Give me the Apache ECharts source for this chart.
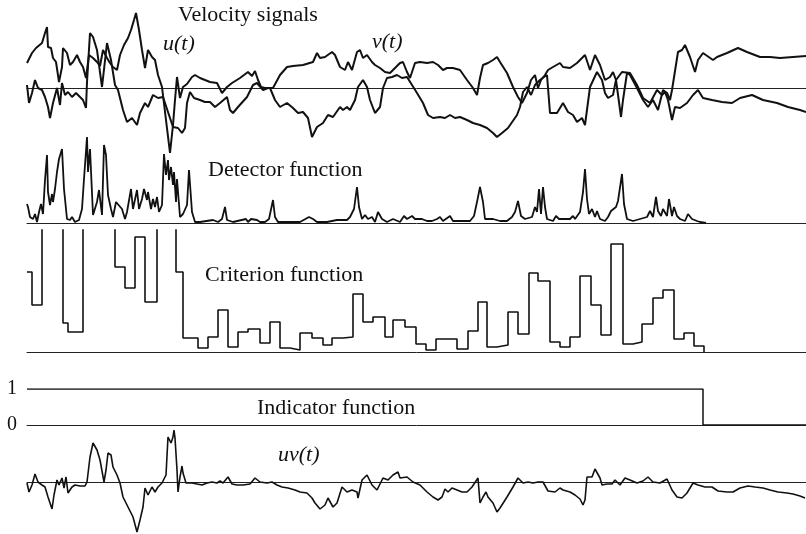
<!DOCTYPE html>
<html>
<head>
<meta charset="utf-8">
<script src="https://cdn.jsdelivr.net/npm/echarts@6/dist/echarts.min.js"></script>
<style>
  html, body { margin: 0; padding: 0; background: #fff; }
  #chart { width: 806px; height: 534px; }
</style>
</head>
<body>
<div id="chart"></div>
<script>
// Record length (time samples) shared by all traces
const timeSpan = 779;

// Streamwise velocity fluctuation u(t): [time, amplitude]
const uSignal = [
  [0,25],[5,35],[9,40],[11,38],[15,45],[18,55],[20,61],[21,41],[24,40],[26,30],[29,26],[32,6],[35,21],[36,40],
  [40,35],[43,23],[46,26],[50,33],[53,26],[56,21],[59,10],[62,33],[66,30],[70,26],[73,22],[76,38],[80,30],[83,25],
  [86,21],[90,18],[93,33],[97,43],[101,50],[104,58],[107,68],[109,75],[112,58],[115,38],[118,20],[121,38],[125,31],
  [128,28],[131,13],[135,1],[139,-32],[143,-65],[146,-37],[148,-12],[150,11],[153,-10],[156,1],[160,4],[165,11],
  [168,13],[173,10],[178,8],[183,6],[190,5],[195,-5],[200,1],[205,5],[213,10],[221,16],[225,12],[228,17],[231,8],
  [234,1],[238,0],[243,0],[248,-12],[253,-19],[260,-15],[266,-20],[271,-25],[276,-24],[281,-30],[285,-49],[290,-39],
  [296,-35],[301,-27],[306,-29],[313,-19],[316,-22],[320,-19],[323,-22],[328,-12],[331,1],[336,8],[340,1],[343,-12],
  [348,-25],[353,-19],[356,0],[360,10],[365,11],[370,13],[375,10],[380,11],[385,3],[390,-5],[396,-15],[401,-27],
  [406,-30],[413,-29],[418,-30],[423,-27],[428,-30],[433,-29],[440,-32],[446,-35],[453,-37],[460,-40],[466,-45],
  [470,-49],[475,-45],[481,-40],[490,-27],[493,-19],[496,-4],[500,1],[504,-7],[508,3],[513,8],[517,11],[520,13],
  [523,-25],[530,-25],[536,-15],[541,-24],[546,-27],[550,-34],[555,-30],[558,-37],[563,1],[570,16],[575,8],[578,-5],
  [581,-10],[586,-7],[589,8],[595,16],[603,15],[610,3],[616,-10],[623,-15],[630,-2],[635,-7],[638,-4],[641,-12],
  [645,-32],[648,-19],[653,-20],[660,-15],[666,-7],[671,-2],[676,-10],[685,-12],[695,-14],[705,-15],[713,-10],
  [725,-7],[736,-12],[750,-15],[761,-19],[773,-22],[779,-24]
];

// Normal velocity fluctuation v(t): [time, amplitude]
const vSignal = [
  [0,3],[2,-15],[5,-5],[8,8],[11,0],[15,-2],[18,-9],[21,-19],[23,-30],[26,-15],[30,0],[33,-17],[35,5],[38,-7],
  [41,-4],[45,-9],[49,-5],[53,-9],[56,-12],[59,-20],[60,6],[63,55],[66,51],[70,38],[75,1],[80,45],[84,28],[88,3],
  [91,-2],[96,-22],[100,-34],[105,-30],[110,-37],[113,-25],[118,-15],[121,-19],[126,-7],[131,-10],[136,-9],
  [141,-24],[146,-39],[151,-40],[155,-45],[158,-40],[160,-15],[163,-4],[165,-2],[167,-10],[173,-12],[178,-14],
  [183,-14],[188,-19],[193,-15],[200,-9],[203,-22],[206,-25],[211,-19],[220,-9],[226,3],[230,5],[236,-2],[241,0],
  [246,0],[253,13],[260,21],[266,22],[276,23],[286,26],[290,35],[293,30],[298,31],[305,36],[308,33],[313,21],
  [318,18],[321,26],[325,18],[330,36],[333,38],[336,30],[340,33],[345,26],[348,23],[353,20],[358,16],[363,15],
  [368,20],[373,25],[376,26],[380,16],[383,10],[388,25],[393,26],[400,25],[406,26],[411,23],[416,18],[420,20],
  [426,20],[433,18],[440,8],[446,0],[450,-7],[453,10],[456,23],[461,25],[466,28],[470,31],[473,26],[480,15],
  [486,1],[491,-9],[495,-15],[500,-5],[504,8],[508,13],[511,0],[514,8],[518,13],[521,18],[526,21],[533,25],
  [536,21],[543,20],[550,25],[558,33],[563,18],[568,33],[573,23],[578,8],[583,11],[586,16],[589,8],[594,-29],
  [596,-12],[600,15],[603,13],[610,0],[616,-12],[621,-19],[626,-12],[631,-22],[636,-2],[640,-5],[643,-12],
  [645,-2],[651,36],[655,38],[658,43],[663,31],[668,16],[671,28],[676,35],[686,28],[690,31],[700,35],[711,40],
  [720,36],[733,31],[743,31],[753,30],[766,31],[779,32]
];

// Detector function (non-negative): [time, level]
const detectorSignal = [
  [0,19],[1,16],[3,6],[6,4],[8,9],[10,1],[12,11],[14,19],[16,9],[18,43],[20,68],[21,31],[23,18],[25,29],[26,21],
  [28,34],[30,51],[32,64],[35,74],[37,34],[40,4],[43,3],[45,6],[48,1],[52,3],[55,14],[57,44],[60,86],[61,51],
  [63,74],[66,8],[70,21],[72,33],[75,8],[77,78],[79,68],[81,28],[84,14],[86,6],[89,21],[91,19],[95,14],[98,4],
  [100,11],[104,34],[106,14],[110,33],[112,14],[115,24],[117,34],[120,23],[121,31],[124,14],[126,24],[128,16],
  [130,26],[132,11],[135,18],[137,69],[139,48],[141,63],[142,43],[144,56],[146,38],[147,51],[149,21],[150,44],
  [153,6],[156,9],[160,18],[162,53],[165,11],[168,1],[173,1],[186,3],[191,1],[195,4],[198,16],[200,3],[206,1],
  [219,4],[221,1],[224,4],[230,3],[233,1],[238,1],[242,4],[246,23],[248,6],[251,1],[273,1],[282,6],[286,4],
  [290,1],[300,1],[310,3],[320,3],[323,6],[327,14],[330,36],[332,16],[335,4],[338,8],[341,4],[345,6],[348,1],
  [351,11],[355,4],[360,1],[366,4],[373,1],[377,7],[380,4],[385,7],[388,4],[395,4],[397,6],[400,2],[405,2],
  [410,4],[413,6],[416,2],[423,7],[426,2],[443,2],[447,7],[450,21],[453,36],[456,21],[458,4],[466,4],[473,2],
  [480,2],[485,6],[488,11],[491,22],[494,7],[498,4],[505,6],[508,16],[510,11],[512,34],[514,9],[516,36],[518,16],
  [520,4],[526,2],[529,7],[532,4],[543,4],[546,7],[548,4],[553,11],[556,31],[558,54],[560,24],[562,9],[565,14],
  [568,6],[570,12],[573,4],[578,2],[581,6],[584,12],[586,11],[589,16],[591,22],[595,49],[597,19],[600,4],[606,2],
  [613,4],[620,6],[623,12],[626,6],[629,26],[631,12],[634,7],[636,14],[640,7],[642,24],[645,7],[647,16],[650,7],
  [653,4],[658,2],[661,9],[665,4],[670,2],[673,1],[679,0]
];

// Criterion function, piecewise constant: [window start, level]
const criterionSteps = [
  [0,80],[5,47],[15,200],[36,29],[41,20],[56,200],[88,85],[98,64],[108,115],[118,50],[130,200],[149,80],[156,14],
  [171,4],[181,15],[191,42],[201,5],[211,20],[221,23],[233,9],[243,30],[253,4],[263,2],[273,19],[285,14],[296,7],
  [305,14],[316,15],[326,58],[336,30],[346,35],[358,15],[366,32],[378,25],[389,8],[399,2],[409,13],[430,3],
  [441,21],[451,50],[460,5],[470,7],[481,40],[491,18],[502,79],[511,71],[523,10],[533,5],[543,15],[553,76],
  [564,47],[574,17],[584,108],[596,8],[606,10],[615,28],[626,54],[636,62],[647,13],[657,19],[667,6],[677,0]
];

// Indicator function (1 while the event is detected): [start, state]
const indicatorSteps = [[0,1],[676,0],[779,0]];
const indicatorTicks = ['0', '1'];

// Product signal uv(t): [time, amplitude]
const uvSignal = [
  [0,-1],[2,-10],[5,-3],[8,8],[11,0],[15,-3],[18,-5],[21,-15],[25,-27],[27,-13],[30,2],[32,-3],[35,4],[37,-6],
  [39,5],[41,-11],[45,-5],[48,-3],[53,-4],[58,-4],[60,0],[63,25],[66,39],[70,32],[73,22],[77,0],[79,12],[81,29],
  [84,27],[86,15],[90,7],[93,-1],[96,-15],[101,-25],[106,-35],[110,-50],[113,-38],[116,-25],[118,-6],[121,-13],
  [125,-5],[128,-10],[131,-5],[135,-1],[139,7],[141,45],[144,39],[146,45],[147,52],[148,44],[150,12],[151,-10],
  [153,5],[155,16],[156,9],[159,-1],[165,-1],[170,-2],[175,-3],[180,-1],[185,0],[190,-1],[193,1],[196,-1],
  [201,5],[205,-2],[210,-3],[216,-3],[223,-2],[228,4],[233,0],[240,-1],[245,0],[250,-3],[255,-5],[261,-6],
  [268,-8],[273,-10],[280,-11],[285,-16],[288,-21],[293,-27],[298,-23],[301,-16],[306,-25],[310,-21],[315,-5],
  [320,-10],[325,-8],[330,-10],[331,-16],[335,2],[340,7],[345,-3],[350,-8],[356,4],[361,2],[366,7],[371,10],
  [373,4],[380,5],[386,0],[393,-3],[400,-10],[406,-15],[411,-18],[415,-15],[418,-7],[421,-10],[425,-6],[430,-8],
  [435,-10],[440,-10],[445,-5],[451,4],[453,-21],[456,-15],[459,-10],[461,-15],[466,-21],[470,-30],[473,-26],
  [480,-15],[486,-5],[491,4],[496,-1],[501,0],[506,-1],[511,0],[516,0],[521,-9],[528,-10],[533,-6],[536,-8],
  [543,-10],[548,-13],[553,-17],[556,-23],[558,-18],[560,5],[565,5],[568,13],[573,4],[575,-3],[580,-2],[585,-2],
  [588,2],[593,-3],[598,4],[603,2],[610,-1],[616,1],[621,5],[626,0],[633,-1],[640,3],[645,-8],[650,-15],
  [655,-16],[660,-11],[666,-1],[671,-3],[678,-5],[685,-5],[691,-9],[700,-10],[706,-10],[713,-6],[721,-4],
  [728,-5],[736,-6],[743,-8],[751,-10],[760,-11],[766,-12],[773,-14],[778,-16]
];

const INK = '#111';
const SERIF = '"Liberation Serif", "DejaVu Serif", serif';

// Panel layout: each panel is its own grid sharing the same time extent
const panels = [
  { top: 8,   height: 150, min: -70, max: 80 },   // velocity signals
  { top: 123, height: 100, min: 0,   max: 100 },  // detector function
  { top: 230, height: 122, min: 0,   max: 122 },  // criterion function
  { top: 389, height: 36,  min: 0,   max: 1 },    // indicator function
  { top: 420, height: 114, min: -52, max: 62 }    // uv(t)
];

const grids = panels.map(p => ({ left: 27, width: 779, top: p.top, height: p.height }));

const xAxes = panels.map((p, i) => ({
  type: 'value', gridIndex: i, min: 0, max: timeSpan,
  axisLine: { show: true, onZero: true, lineStyle: { color: '#222', width: 1 } },
  axisTick: { show: false }, axisLabel: { show: false }, splitLine: { show: false }
}));

const yAxes = panels.map((p, i) => {
  const isIndicator = i === 3;
  return {
    type: 'value', gridIndex: i, min: p.min, max: p.max,
    interval: isIndicator ? 1 : undefined,
    show: isIndicator,
    axisLine: { show: false }, axisTick: { show: false }, splitLine: { show: false },
    axisLabel: {
      show: isIndicator, margin: 10, color: INK, fontFamily: SERIF, fontSize: 20,
      formatter: v => indicatorTicks[v] !== undefined ? indicatorTicks[v] : ''
    }
  };
});

function trace(data, idx, width, step) {
  return {
    type: 'line', data: data, xAxisIndex: idx, yAxisIndex: idx,
    showSymbol: false, symbol: 'none', step: step || false, clip: true,
    lineStyle: { color: INK, width: width }, silent: true
  };
}

function label(text, left, top, italic) {
  return {
    type: 'text', left: left, top: top, silent: true,
    style: { text: text, fill: INK, font: (italic ? 'italic ' : '') + '22px ' + SERIF }
  };
}

const chart = echarts.init(document.getElementById('chart'), null, { renderer: 'canvas' });
chart.setOption({
  animation: false,
  backgroundColor: '#fff',
  grid: grids,
  xAxis: xAxes,
  yAxis: yAxes,
  series: [
    trace(uSignal, 0, 2),
    trace(vSignal, 0, 2),
    trace(detectorSignal, 1, 1.8),
    trace(criterionSteps, 2, 1.6, 'end'),
    trace(indicatorSteps, 3, 1.5, 'end'),
    trace(uvSignal, 4, 1.6)
  ],
  graphic: [
    label('Velocity signals', 178, 4, false),
    label('u(t)', 163, 33, true),
    label('v(t)', 372, 31, true),
    label('Detector function', 208, 159, false),
    label('Criterion function', 205, 264, false),
    label('Indicator function', 257, 397, false),
    label('uv(t)', 278, 444, true)
  ]
});
</script>
</body>
</html>
